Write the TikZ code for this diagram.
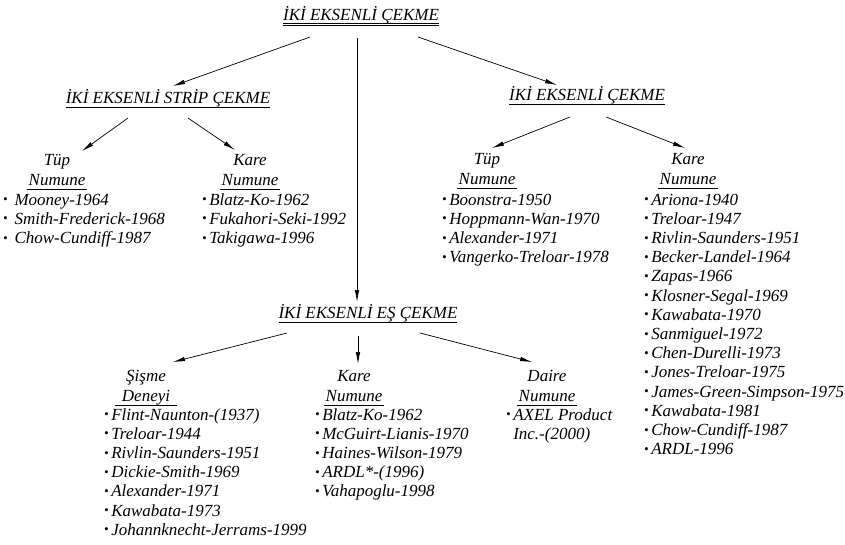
\documentclass[tikz,border=0pt]{standalone}
\usepackage{fontspec}
\setmainfont{Liberation Serif}
\usetikzlibrary{arrows.meta}
\usetikzlibrary{calc}

\newlength{\ulwd}
\newcommand{\ulline}[2][1.5pt]{\settowidth{\ulwd}{#2}\makebox[0pt][l]{\hspace{-#1}\rule[-4.6pt]{\dimexpr\ulwd+#1+#1\relax}{0.7pt}}#2}
\newcommand{\ulldbl}[1]{\settowidth{\ulwd}{#1}\makebox[0pt][l]{\rule[-4pt]{\ulwd}{0.7pt}}\makebox[0pt][l]{\rule[-6pt]{\ulwd}{0.9pt}}#1}
\newcommand{\bul}{\raisebox{1.3pt}{\fontsize{13}{13}\selectfont\textbullet}\hspace{2.5pt}}

\begin{document}
\begin{tikzpicture}[x=1pt, y=-1pt,
  txt/.style={font=\fontsize{17}{19.2}\selectfont\itshape, inner sep=0pt},
  hd/.style={txt, anchor=base},
  sub/.style={txt, align=center, anchor=base},
  lst/.style={txt, align=left, anchor=base west},
  arr/.style={-{Latex[length=12pt,width=4.5pt]}, line width=0.7pt}]
\useasboundingbox (0,0) rectangle (845,544);

% headings
\node[hd] (top) at (361,20) {\ulldbl{İKİ EKSENLİ ÇEKME}};
\node[hd] (strip) at (168,103) {\ulline[0pt]{İKİ EKSENLİ STRİP ÇEKME}};
\node[hd] (right) at (587,100) {\ulline[0pt]{İKİ EKSENLİ ÇEKME}};
\node[hd] (es) at (368,318) {\ulline[0pt]{İKİ EKSENLİ EŞ ÇEKME}};

% specimen types (base = last line)
\node[sub] (tubeS) at (57,185) {Tüp\\\ulline{Numune}};
\node[sub] (kareS) at (250,185) {Kare\\\ulline{Numune}};
\node[sub] (tubeR) at (487,184) {Tüp\\\ulline{Numune}};
\node[sub] (kareR) at (688,184) {Kare\\\ulline{Numune}};
\node[sub] (sisme) at (146,401) {Şişme\\\ulline[7pt]{Deneyi}};
\node[sub] (kareE) at (354,401) {Kare\\\ulline{Numune}};
\node[sub] (daire) at (547,401) {Daire\\\ulline{Numune}};

% references
\node[lst] (listTS) at (3,243.4) {\bul\ Mooney-1964\\\bul\ Smith-Frederick-1968\\\bul\ Chow-Cundiff-1987};
\node[lst] (listKS) at (202,243.4) {\bul Blatz-Ko-1962\\\bul Fukahori-Seki-1992\\\bul Takigawa-1996};
\node[lst] (listTR) at (442,262.6) {\bul Boonstra-1950\\\bul Hoppmann-Wan-1970\\\bul Alexander-1971\\\bul Vangerko-Treloar-1978};
\node[lst] (listKR) at (644,454.6) {\bul Ariona-1940\\\bul Treloar-1947\\\bul Rivlin-Saunders-1951\\\bul Becker-Landel-1964\\\bul Zapas-1966\\\bul Klosner-Segal-1969\\\bul Kawabata-1970\\\bul Sanmiguel-1972\\\bul Chen-Durelli-1973\\\bul Jones-Treloar-1975\\\bul James-Green-Simpson-1975\\\bul Kawabata-1981\\\bul Chow-Cundiff-1987\\\bul ARDL-1996};
\node[lst] (listSi) at (104,535.2) {\bul Flint-Naunton-(1937)\\\bul Treloar-1944\\\bul Rivlin-Saunders-1951\\\bul Dickie-Smith-1969\\\bul Alexander-1971\\\bul Kawabata-1973\\\bul Johannknecht-Jerrams-1999};
\node[lst] (listKE) at (315,496.8) {\bul Blatz-Ko-1962\\\bul McGuirt-Lianis-1970\\\bul Haines-Wilson-1979\\\bul ARDL*-(1996)\\\bul Vahapoglu-1998};
\node[lst] (listDa) at (506,439.2) {\bul AXEL Product\\\phantom{\bul}Inc.-(2000)};

\draw[arr] ($(top.base)+(-51,17)$) -- ($(strip.base)+(5,-17)$);
\draw[arr] ($(top.base)+(57,17)$) -- ($(right.base)+(-30,-15)$);
\draw[arr] ($(top.base)+(-4,18)$) -- ($(es.base)+(-11,-16)$);
\draw[arr] ($(strip.base)+(-40,15)$) -- ($(tubeS.base)+(25,-34)$);
\draw[arr] ($(strip.base)+(20,15)$) -- ($(kareS.base)+(-15,-35)$);
\draw[arr] ($(right.base)+(-17,17)$) -- ($(tubeR.base)+(5,-36)$);
\draw[arr] ($(right.base)+(19,17)$) -- ($(kareR.base)+(-3,-36)$);
\draw[arr] ($(es.base)+(-81,15)$) -- ($(sisme.base)+(27,-39)$);
\draw[arr] ($(es.base)+(-10,18)$) -- ($(kareE.base)+(4,-37)$);
\draw[arr] ($(es.base)+(52,15)$) -- ($(daire.base)+(-15,-39)$);
\end{tikzpicture}
\end{document}
